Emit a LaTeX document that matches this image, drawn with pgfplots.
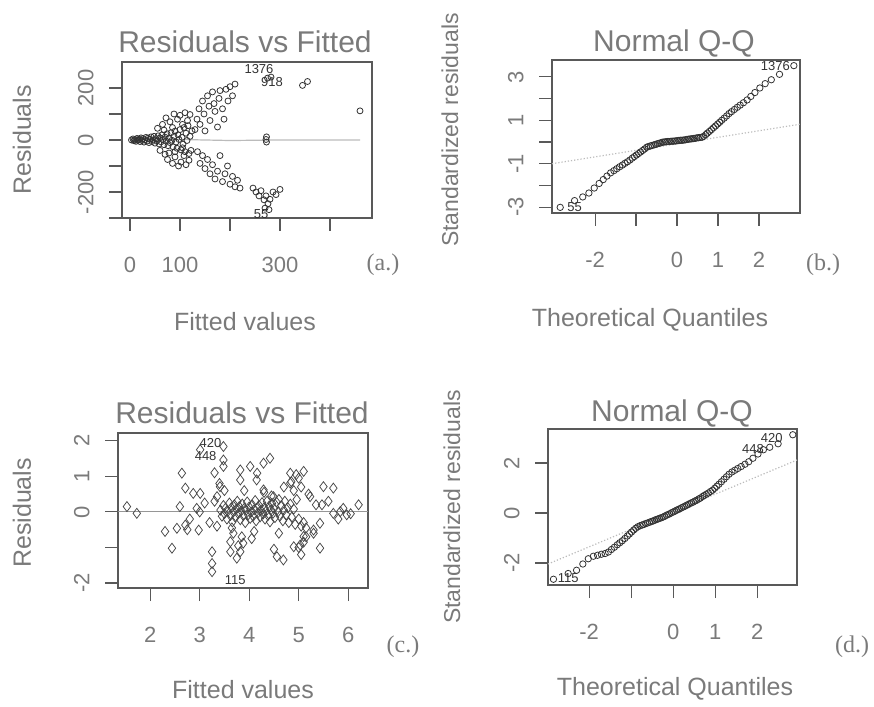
\documentclass[border=0pt]{standalone}
\usepackage{fontspec}
\setmainfont{Liberation Sans}
\newfontfamily\tnr{Liberation Serif}
\usepackage{pgfplots}
\pgfplotsset{compat=1.18}
\definecolor{txt}{HTML}{7A7A7A}
\definecolor{pt}{HTML}{333333}
\definecolor{ln}{HTML}{BBBBBB}
\begin{document}
\begin{tikzpicture}[x=1pt,y=1pt]
\useasboundingbox (0pt,0pt) rectangle (874pt,706pt);
\pgfplotsset{rstyle/.style={scale only axis, anchor=south west,
  axis line style={draw=black!65,line width=1.1pt},
  tick style={draw=black!65,line width=1.1pt},
  major tick length=13pt, tick align=outside, xtick pos=bottom, ytick pos=left,
  /pgf/number format/assume math mode=true,
  tick label style={font=\fontsize{22}{22}\selectfont, text=txt},
  xticklabel style={anchor=north}, xticklabel shift=23pt,
  yticklabel style={rotate=90, anchor=south}, yticklabel shift=12pt}}
% ---------------- (a)
\begin{axis}[rstyle, at={(122pt,488pt)}, width=250pt, height=156pt,
  xmin=-16, xmax=484, ymin=-300, ymax=300,
  xtick={0,100,200,300,400}, xticklabels={0,100,,300,},
  ytick={-300,-200,-100,0,100,200}, yticklabels={,-200,,0,,200}]
\addplot[ln, line width=1.2pt] coordinates {(0,5) (100,2) (200,-2) (300,0) (460,0)};
\addplot[only marks, mark=o, mark size=3pt, pt, mark options={line width=0.8pt}] coordinates {
(3,0)(6,4)(8,-3)(10,2)(12,-5)(14,6)(16,-1)(18,3)(20,-6)(22,8)(24,-2)(26,5)(28,-8)(30,1)(32,10)(34,-4)(36,7)(38,-10)(40,3)(42,12)(44,-6)(46,0)(48,14)(50,-12)(52,5)(54,-3)(56,16)(58,-15)(60,8)(62,-7)(64,20)(66,2)(68,-18)(70,11)(72,-4)(74,24)(76,-22)(78,6)(80,-10)(82,28)(84,-1)(86,-26)(88,14)(90,34)(92,-8)(94,-32)(96,20)(98,2)(100,40)(102,-38)(104,10)(106,-16)(108,48)(110,-45)(112,26)(114,-2)(116,55)(118,-52)(120,14)
(55,45)(60,-40)(65,60)(70,-55)(72,85)(75,-75)(80,70)(85,-90)(88,100)(90,-65)(95,80)(97,-100)(100,95)(102,-85)(105,60)(108,-60)(110,105)(112,-95)(115,75)(118,-78)(120,98)(122,-40)(124,35)(85,48)(90,-45)(105,-30)(78,-50)(68,38)
(130,40)(134,80)(138,120)(140,60)(145,150)(148,100)(150,35)(155,170)(158,130)(160,75)(165,185)(168,140)(170,110)(175,50)(178,160)(180,190)(185,120)(188,80)(192,195)(196,150)(200,205)(205,170)(210,215)
(135,-45)(140,-90)(145,-60)(150,-110)(155,-75)(160,-130)(165,-95)(170,-150)(175,-120)(180,-60)(185,-160)(190,-130)(195,-100)(200,-170)(205,-140)(210,-180)(215,-155)(220,-185)(246,-185)(252,-200)(258,-215)(262,-195)(268,-230)(272,-215)(276,-245)(280,-228)(286,-200)(292,-210)(300,-190)(270,-262)(278,-268)
(273,12)(273,-8)(272,2)(275,238)(282,242)(345,210)(355,225)(460,112)};
\node[font=\fontsize{13}{13}\selectfont, text=pt] at (axis cs:258,274) {1376};
\node[font=\fontsize{13}{13}\selectfont, text=pt] at (axis cs:284,222) {918};
\node[font=\fontsize{13}{13}\selectfont, text=pt] at (axis cs:262,-284) {55};
\end{axis}
% ---------------- (b)
\begin{axis}[rstyle, at={(552pt,493pt)}, width=248pt, height=153pt,
  xmin=-3.05, xmax=3.0, ymin=-3.27, ymax=3.78,
  xtick={-2,-1,0,1,2}, xticklabels={-2,,0,1,2},
  ytick={-3,-2,-1,0,1,2,3}, yticklabels={-3,,-1,,1,,3}]
\addplot[ln, line width=1.2pt, dotted] coordinates {(-3.05,-1.0) (3.0,0.82)};
\addplot[only marks, mark=o, mark size=3.2pt, pt, mark options={line width=0.8pt}] coordinates {
(-2.85,-3.01)(-2.5,-2.70)(-2.3,-2.53)(-2.15,-2.35)(-2.02,-2.12)(-1.9,-1.91)(-1.8,-1.73)(-1.71,-1.57)(-1.62,-1.42)(-1.54,-1.32)(-1.47,-1.23)(-1.4,-1.14)(-1.33,-1.06)(-1.27,-0.98)(-1.21,-0.91)(-1.15,-0.83)(-1.09,-0.74)(-1.04,-0.67)(-0.99,-0.60)(-0.94,-0.53)(-0.89,-0.46)(-0.84,-0.39)(-0.79,-0.32)(-0.74,-0.24)(-0.7,-0.21)(-0.65,-0.18)(-0.61,-0.16)(-0.56,-0.13)(-0.52,-0.11)(-0.48,-0.08)(-0.44,-0.06)(-0.4,-0.04)(-0.36,-0.01)(-0.32,0.00)(-0.28,0.01)(-0.24,0.02)(-0.2,0.02)(-0.16,0.03)(-0.12,0.04)(-0.08,0.04)(-0.04,0.05)(0,0.06)(0.04,0.07)(0.08,0.08)(0.12,0.08)(0.16,0.09)(0.2,0.10)(0.24,0.12)(0.28,0.13)(0.32,0.14)(0.36,0.15)(0.4,0.16)(0.44,0.17)(0.48,0.19)(0.52,0.20)(0.56,0.21)(0.61,0.22)(0.65,0.26)(0.7,0.34)(0.74,0.41)(0.79,0.49)(0.84,0.57)(0.89,0.66)(0.94,0.74)(0.99,0.83)(1.04,0.91)(1.09,1.0)(1.15,1.10)(1.21,1.20)(1.27,1.31)(1.33,1.40)(1.4,1.50)(1.47,1.60)(1.54,1.70)(1.62,1.81)(1.71,1.94)(1.8,2.10)(1.9,2.28)(2.02,2.49)(2.15,2.69)(2.3,2.87)(2.5,3.12)(2.85,3.52)};
\node[font=\fontsize{13}{13}\selectfont, text=pt] at (axis cs:2.4,3.5) {1376};
\node[font=\fontsize{13}{13}\selectfont, text=pt] at (axis cs:-2.5,-2.98) {55};
\end{axis}
% ---------------- (c)
\begin{axis}[rstyle, at={(118pt,118pt)}, width=250pt, height=155pt,
  xmin=1.35, xmax=6.4, ymin=-2.14, ymax=2.22,
  xtick={2,3,4,5,6}, ytick={-2,-1,0,1,2}, yticklabels={-2,,0,1,2}]
\addplot[ln!80!black, line width=1pt] coordinates {(1.35,0) (6.4,0)};
\addplot[only marks, mark=diamond, mark size=5pt, black!72, mark options={line width=0.75pt}] coordinates {
(1.53,0.15)(1.73,-0.04)(2.44,-1.02)(2.54,-0.46)(2.64,1.09)(2.71,-0.37)(2.71,0.67)(2.87,0.52)(2.98,-0.51)(3.01,0.52)(2.94,0.10)(3.25,-1.12)(3.25,-1.45)(3.25,-1.68)(3.01,1.75)(3.48,1.84)(3.48,1.46)(3.48,1.28)(3.41,0.71)(3.35,0.43)(3.68,-0.60)(3.62,-0.84)(3.62,-1.12)(3.82,-1.12)(3.88,-0.88)(3.82,1.18)(3.82,0.90)(4.02,1.28)(4.16,1.09)(4.29,1.37)(4.42,1.51)(4.29,0.62)(4.49,0.43)(4.56,-1.26)(4.69,-1.35)(4.83,1.09)(4.83,0.81)(5.10,1.14)(5.23,0.43)(4.90,-0.98)(5.03,-0.93)(5.10,-0.69)(5.30,-0.51)(5.43,-1.02)(5.50,0.71)(5.70,0.67)(5.47,0.20)(5.70,-0.04)(5.84,0.01)(6.21,0.20)(5.43,-0.32)(5.97,-0.08)
(3.42,0.05)(3.45,-0.12)(3.48,0.18)(3.5,-0.05)(3.52,0.1)(3.55,-0.2)(3.57,0.02)(3.6,0.25)(3.62,-0.1)(3.64,0.12)(3.66,-0.28)(3.68,0.0)(3.7,0.2)(3.72,-0.15)(3.74,0.08)(3.76,0.3)(3.78,-0.05)(3.8,0.15)(3.82,-0.22)(3.84,0.03)(3.86,0.22)(3.88,-0.1)(3.9,0.1)(3.92,-0.3)(3.94,0.05)(3.96,0.28)(3.98,-0.08)(4.0,0.14)(4.02,-0.18)(4.04,0.0)(4.06,0.2)(4.08,-0.12)(4.1,0.06)(4.12,0.32)(4.14,-0.25)(4.16,0.1)(4.18,-0.02)(4.2,0.18)(4.22,-0.14)(4.24,0.04)(4.26,0.26)(4.28,-0.06)(4.3,0.12)(4.32,-0.2)(4.34,0.02)(4.36,0.3)(4.38,-0.1)(4.4,0.16)(4.42,-0.28)(4.44,0.06)(4.46,0.24)(4.48,-0.04)(4.5,0.1)(4.52,-0.16)(4.55,0.28)(4.58,0.0)(4.6,0.35)(4.62,-0.12)(4.65,0.18)(4.68,-0.25)(4.7,0.05)(4.72,0.3)(4.75,-0.08)(4.78,0.12)(4.8,-0.3)(4.83,0.22)(4.86,-0.15)(4.9,0.08)(4.93,-0.35)(4.96,0.35)(5.0,-0.2)(5.05,-0.4)(5.1,-0.3)(5.15,-0.45)
(3.3,0.3)(3.35,-0.4)(3.1,0.25)(3.2,-0.3)(3.0,0.0)(2.8,-0.2)(2.6,0.15)(2.3,-0.55)(2.75,-0.5)(5.2,0.5)(5.3,-0.6)(5.6,0.3)(5.8,-0.2)(5.9,0.1)(6.05,-0.05)(5.35,0.2)(4.1,-0.55)(4.3,0.55)(3.9,0.6)(4.6,-0.6)(4.9,0.6)(5.05,0.7)(4.85,0.85)(4.95,1.05)(5.0,0.95)(4.15,0.9)(3.75,-1.3)(3.78,-0.95)(4.05,-0.75)(4.5,-1.05)(5.05,-1.2)(5.1,-0.85)(5.0,-1.0)(5.15,-0.7)(3.65,-0.45)(3.85,-0.7)(3.5,0.6)(3.4,0.8)(3.3,1.1)(4.7,0.7)(4.45,0.45)};
\node[font=\fontsize{13}{13}\selectfont, text=pt] at (axis cs:3.22,1.95) {420};
\node[font=\fontsize{13}{13}\selectfont, text=pt] at (axis cs:3.12,1.58) {448};
\node[font=\fontsize{13}{13}\selectfont, text=pt] at (axis cs:3.72,-1.92) {115};
\end{axis}
% ---------------- (d)
\begin{axis}[rstyle, at={(548pt,121pt)}, width=249pt, height=156pt,
  xmin=-2.98, xmax=2.95, ymin=-2.88, ymax=3.36,
  xtick={-2,-1,0,1,2}, xticklabels={-2,,0,1,2}, ytick={-2,0,2}]
\addplot[ln, line width=1.2pt, dotted] coordinates {(-2.98,-2.04) (2.95,2.12)};
\addplot[only marks, mark=o, mark size=3.2pt, pt, mark options={line width=0.8pt}] coordinates {
(-2.85,-2.65)(-2.5,-2.42)(-2.3,-2.29)(-2.15,-2.04)(-2.02,-1.83)(-1.9,-1.73)(-1.8,-1.69)(-1.71,-1.65)(-1.62,-1.62)(-1.54,-1.56)(-1.47,-1.46)(-1.4,-1.37)(-1.33,-1.27)(-1.27,-1.19)(-1.21,-1.11)(-1.15,-1.02)(-1.09,-0.92)(-1.04,-0.84)(-0.99,-0.76)(-0.94,-0.68)(-0.89,-0.61)(-0.84,-0.55)(-0.79,-0.51)(-0.74,-0.48)(-0.7,-0.46)(-0.65,-0.42)(-0.61,-0.40)(-0.56,-0.37)(-0.52,-0.34)(-0.48,-0.32)(-0.44,-0.29)(-0.4,-0.26)(-0.36,-0.24)(-0.32,-0.21)(-0.28,-0.19)(-0.24,-0.16)(-0.2,-0.13)(-0.16,-0.09)(-0.12,-0.06)(-0.08,-0.03)(-0.04,0.01)(0,0.04)(0.04,0.07)(0.08,0.11)(0.12,0.14)(0.16,0.17)(0.2,0.21)(0.24,0.24)(0.28,0.27)(0.32,0.31)(0.36,0.34)(0.4,0.38)(0.44,0.41)(0.48,0.44)(0.52,0.48)(0.56,0.51)(0.61,0.56)(0.65,0.60)(0.7,0.66)(0.74,0.70)(0.79,0.75)(0.84,0.80)(0.89,0.86)(0.94,0.91)(0.99,0.99)(1.04,1.07)(1.09,1.15)(1.15,1.25)(1.21,1.35)(1.27,1.45)(1.33,1.55)(1.4,1.64)(1.47,1.71)(1.54,1.78)(1.62,1.86)(1.71,1.95)(1.8,2.05)(1.9,2.19)(2.02,2.36)(2.15,2.53)(2.3,2.63)(2.5,2.77)(2.85,3.13)};
\node[font=\fontsize{13}{13}\selectfont, text=pt] at (axis cs:1.9,2.55) {448};
\node[font=\fontsize{13}{13}\selectfont, text=pt] at (axis cs:2.35,2.98) {420};
\node[font=\fontsize{13}{13}\selectfont, text=pt] at (axis cs:-2.5,-2.62) {115};
\end{axis}
% ---------------- titles and labels
\begin{scope}[every node/.style={text=txt}]
\node[font=\fontsize{30}{30}\selectfont] at (245pt,664pt) {Residuals vs Fitted};
\node[font=\fontsize{25}{25}\selectfont, rotate=90] at (22pt,566pt) {Residuals};
\node[font=\fontsize{25}{25}\selectfont] at (245pt,384pt) {Fitted values};
\node[font=\tnr\fontsize{24}{24}\selectfont] at (383pt,441pt) {(a.)};
\node[font=\fontsize{30}{30}\selectfont] at (674pt,663pt) {Normal Q-Q};
\node[font=\fontsize{23}{23}\selectfont, rotate=90] at (450pt,576pt) {Standardized residuals};
\node[font=\fontsize{25}{25}\selectfont] at (650pt,386pt) {Theoretical Quantiles};
\node[font=\tnr\fontsize{24}{24}\selectfont] at (823pt,441pt) {(b.)};
\node[font=\fontsize{30}{30}\selectfont] at (242pt,293pt) {Residuals vs Fitted};
\node[font=\fontsize{25}{25}\selectfont, rotate=90] at (22pt,193pt) {Residuals};
\node[font=\fontsize{25}{25}\selectfont] at (243pt,16pt) {Fitted values};
\node[font=\tnr\fontsize{24}{24}\selectfont] at (403pt,59pt) {(c.)};
\node[font=\fontsize{30}{30}\selectfont] at (672pt,293pt) {Normal Q-Q};
\node[font=\fontsize{23}{23}\selectfont, rotate=90] at (452pt,199pt) {Standardized residuals};
\node[font=\fontsize{25}{25}\selectfont] at (675pt,17pt) {Theoretical Quantiles};
\node[font=\tnr\fontsize{24}{24}\selectfont] at (852pt,59pt) {(d.)};
\end{scope}
\end{tikzpicture}
\end{document}
